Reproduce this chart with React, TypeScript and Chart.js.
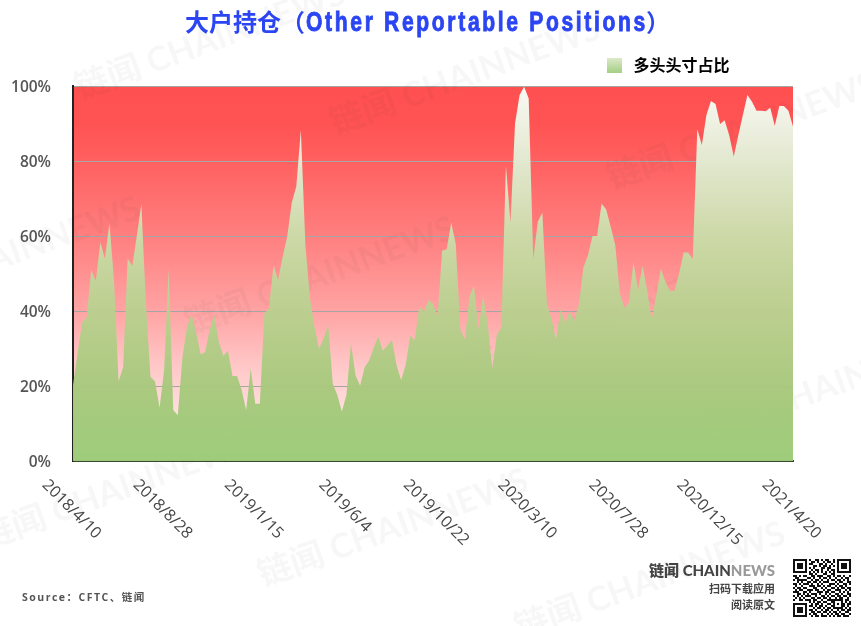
import React, { useEffect, useRef } from "react";
import { Chart, registerables } from "chart.js";

Chart.register(...registerables);

const seriesName = "多头头寸占比";
const startDate = Date.UTC(2018, 3, 10);
const weekCount = 159;
const categories: string[] = Array.from({ length: weekCount }, (_, i) => {
  const d = new Date(startDate + i * 7 * 86400000);
  return `${d.getUTCFullYear()}/${d.getUTCMonth() + 1}/${d.getUTCDate()}`;
});
const tickLabels = [
  "2018/4/10", "2018/8/28", "2019/1/15", "2019/6/4", "2019/10/22",
  "2020/3/10", "2020/7/28", "2020/12/15", "2021/4/20",
];
const longShare = [
  20.3, 28.7, 37, 38.3, 51, 48, 58.3, 54, 63.4, 48.3,
  21.3, 25, 54, 52, 60, 68.5, 42, 22.5, 21.2, 14.2,
  24.3, 51.2, 13.6, 12.2, 27.4, 35.8, 39.1, 34.5, 28.5, 29,
  35, 38.9, 31.8, 28, 29.4, 22.7, 22.7, 19, 13.6, 24.7,
  15.3, 15.3, 39.4, 40.7, 52.3, 48.3, 54.5, 59.8, 68.9, 73.2,
  88.3, 57.6, 43.5, 35.8, 30, 32.7, 36.4, 20.7, 17.6, 13.2,
  17.6, 31.4, 22.9, 20.1, 25, 26.8, 30.3, 33.2, 29.4, 30.9,
  32.3, 25.6, 21.6, 25.6, 33.4, 32.3, 41.3, 39.8, 42.9, 42,
  38.5, 56.1, 56.5, 63.6, 57.9, 35.1, 32.4, 43.8, 46.8, 35.1,
  44.3, 36.7, 24.7, 33.6, 35.6, 78.9, 63.6, 90, 97.6, 99.8,
  96.7, 53.9, 63.8, 66.2, 42, 38, 32.4, 40.4, 36.8, 40,
  37.4, 41.6, 51.6, 54.9, 60, 60, 68.7, 67.1, 62.5, 57.6,
  44.7, 40.9, 42.2, 53, 45.6, 52.1, 45.6, 37.6, 44.3, 51.2,
  47.8, 45.4, 45.4, 50, 55.6, 55.6, 53.9, 88.5, 84.3, 92.3,
  96, 95.2, 89.9, 90.9, 86.9, 81.2, 86.9, 92.3, 97.6, 95.8,
  93.4, 93.4, 93.3, 94.2, 89.4, 94.7, 94.7, 93.4, 89.2,
];
const titleCjk = "大户持仓（";
const titleLatin = "Other Reportable Positions";
const titleClose = "）";
const sourceText = "Source：CFTC、链闻";
const watermarkText = "链闻 CHAINNEWS";
const watermarkAnchors = [
  [80, 100], [335, 135], [612, 190],
  [-125, 315], [190, 335], [470, 380], [700, 445],
  [-15, 550], [263, 587], [520, 640],
];
const qrRows = [
  "11111110100110101100101111111",
  "10000010011010010110101000001",
  "10111010110001101001001011101",
  "10111010001101011010101011101",
  "10111010101000110110001011101",
  "10000010010110100101101000001",
  "11111110101010101010101111111",
  "00000000110100011001100000000",
  "11010110011011100110101101001",
  "01100001101001011010010010110",
  "10111110010110100101101101010",
  "00101001101101011100010110011",
  "11010111010010100011101001101",
  "01001000111011010110010110100",
  "10110110001100101001101011011",
  "01011001110110010110011100101",
  "11100110100011101101100101010",
  "00110101011101001010011010011",
  "10101011100100110101101101101",
  "01010100011011011010010110010",
  "10011011101100100111111110110",
  "00000000101011011001100010101",
  "11111110010110100110101011011",
  "10000010110101101001100011010",
  "10111010001011010110111110101",
  "10111010110100101101001011011",
  "10111010011011011010110100110",
  "10000010101100100101011011001",
  "11111110010110111010101101110",
];

const CJK = '"Noto Sans CJK SC"';
const redStops: [number, string][] = [
  [0, "#ff5050"], [0.1, "#ff5353"], [0.2, "#ff6060"], [0.4, "#ff7f7f"],
  [0.6, "#ffa3a3"], [0.75, "#ffc8c8"], [0.88, "#ffe0e0"], [1, "#ffffff"],
];
const greenStops: [number, string][] = [
  [0, "rgba(250,252,247,0.985)"], [0.2, "rgba(226,234,209,0.985)"], [0.4, "rgba(204,218,168,0.985)"],
  [0.6, "rgba(186,208,143,0.97)"], [0.8, "rgba(168,201,125,0.97)"], [1, "rgba(155,203,118,0.97)"],
];

function vGrad(ctx: CanvasRenderingContext2D, top: number, bottom: number, stops: [number, string][]) {
  const g = ctx.createLinearGradient(0, top, 0, bottom);
  stops.forEach(([o, c]) => g.addColorStop(o, c));
  return g;
}

function makeSwatch() {
  const c = document.createElement("canvas");
  c.width = 15;
  c.height = 15;
  const x = c.getContext("2d")!;
  x.fillStyle = vGrad(x, 0, 15, [[0, "#dfeacb"], [1, "#a5d085"]]);
  x.fillRect(0, 0, 15, 15);
  return c;
}

const decorPlugin = {
  id: "decor",
  beforeDraw(chart: any) {
    const { ctx, chartArea: a, legend } = chart;
    ctx.save();
    ctx.fillStyle = "#ffffff";
    ctx.fillRect(0, 0, chart.width, chart.height);
    ctx.fillStyle = vGrad(ctx, a.top, a.bottom, redStops);
    ctx.fillRect(a.left, a.top, a.right - a.left, a.bottom - a.top);
    ctx.restore();
    legend.left = 603.5;
    legend.right = 760;
    legend.top = 57;
    legend.bottom = 81;
  },
  beforeDatasetsDraw(chart: any) {
    const { ctx } = chart;
    ctx.save();
    ctx.font = `bold 34px Lato, ${CJK}`;
    ctx.fillStyle = "rgba(60,60,60,0.04)";
    ctx.textAlign = "left";
    ctx.textBaseline = "alphabetic";
    watermarkAnchors.forEach(([x, y]) => {
      ctx.save();
      ctx.translate(x, y);
      ctx.rotate((-20 * Math.PI) / 180);
      ctx.fillText(watermarkText, 0, 0);
      ctx.restore();
    });
    ctx.restore();
  },
  afterDraw(chart: any) {
    const { ctx, scales } = chart;
    ctx.save();

    // x tick labels: rotated clockwise, centred on the tick, top edge level
    ctx.fillStyle = "#444444";
    ctx.font = '16px "Open Sans"';
    ctx.textAlign = "center";
    ctx.textBaseline = "middle";
    const h = 13;
    tickLabels.forEach((label) => {
      const px = scales.x.getPixelForValue(categories.indexOf(label));
      const w = ctx.measureText(label).width;
      const box = (w + h) * Math.SQRT1_2;
      ctx.save();
      ctx.translate(px - 1.5, 478 + box / 2);
      ctx.rotate(Math.PI / 4);
      ctx.fillText(label, 0, 0);
      ctx.restore();
    });

    // title
    ctx.fillStyle = "#2b45f2";
    ctx.strokeStyle = "#2b45f2";
    ctx.textAlign = "left";
    ctx.textBaseline = "alphabetic";
    ctx.font = `bold 24px ${CJK}`;
    ctx.fillText(titleCjk, 185, 31);
    ctx.fillText(titleClose, 646, 31);
    ctx.font = `bold 27px "Liberation Sans", sans-serif`;
    const sx = 0.78;
    const latinW = ctx.measureText(titleLatin).width;
    const spacing = (342 - latinW * sx) / titleLatin.length / sx;
    ctx.save();
    ctx.translate(306, 31);
    ctx.scale(sx, 1);
    (ctx as any).letterSpacing = `${spacing}px`;
    ctx.lineWidth = 0.9;
    ctx.fillText(titleLatin, 0, 0);
    ctx.strokeText(titleLatin, 0, 0);
    (ctx as any).letterSpacing = "0px";
    ctx.restore();

    // source
    ctx.fillStyle = "#555555";
    ctx.font = `bold 10.5px "Open Sans", ${CJK}`;
    (ctx as any).letterSpacing = "1.5px";
    ctx.fillText(sourceText, 22, 601);
    (ctx as any).letterSpacing = "0px";

    // brand block
    ctx.textAlign = "left";
    ctx.font = `900 15px Lato, ${CJK}`;
    const brandA = "链闻 CHAIN";
    const brandB = "NEWS";
    const wB = ctx.measureText(brandB).width;
    const wA = ctx.measureText(brandA).width;
    ctx.fillStyle = "#444444";
    ctx.fillText(brandA, 775 - wA - wB, 576);
    ctx.fillStyle = "#999999";
    ctx.fillText(brandB, 775 - wB, 576);
    ctx.fillStyle = "#444444";
    ctx.textAlign = "right";
    ctx.font = `bold 11px ${CJK}`;
    ctx.fillText("扫码下载应用", 775, 593);
    ctx.fillText("阅读原文", 775, 609);

    // QR
    ctx.fillStyle = "#111111";
    (ctx as any).filter = "blur(0.55px)";
    qrRows.forEach((row, r) => {
      for (let c = 0; c < row.length; c++) {
        if (row[c] === "1") ctx.fillRect(793 + c * 2, 559 + r * 2, 2, 2);
      }
    });
    ctx.restore();
  },
};

export default function App() {
  const ref = useRef<HTMLCanvasElement>(null);
  useEffect(() => {
    document.body.style.margin = "0";
    const swatch = makeSwatch();
    const chart = new Chart(ref.current!, {
      type: "line",
      data: {
        labels: categories,
        datasets: [
          {
            label: seriesName,
            data: longShare,
            fill: "origin",
            borderWidth: 0,
            pointRadius: 0,
            tension: 0,
            backgroundColor: (c: any) => {
              const a = c.chart.chartArea;
              if (!a) return "#9ccb76";
              return vGrad(c.chart.ctx, a.top, a.bottom, greenStops);
            },
          },
        ],
      },
      options: {
        responsive: false,
        animation: false,
        devicePixelRatio: 1,
        layout: { padding: { left: 0, top: 86, right: 68, bottom: 165 } },
        plugins: {
          title: { display: false },
          tooltip: { enabled: false },
          legend: {
            display: true,
            position: "chartArea",
            align: "start",
            labels: {
              usePointStyle: true,
              pointStyleWidth: 22,
              padding: 0,
              color: "#111111",
              font: { family: CJK, size: 16, weight: "bold" },
              generateLabels: (ch: any) => [
                {
                  text: ch.data.datasets[0].label,
                  pointStyle: swatch,
                  fillStyle: "#a5d085",
                  strokeStyle: "transparent",
                  lineWidth: 0,
                  datasetIndex: 0,
                },
              ],
            },
          },
        },
        scales: {
          x: {
            type: "category",
            offset: false,
            ticks: { display: false },
            grid: { display: false, drawTicks: false },
            border: { display: true, color: "#3a4a30", width: 2 },
            afterFit: (s: any) => {
              s.height = 0;
            },
          },
          y: {
            min: 0,
            max: 100,
            ticks: {
              stepSize: 20,
              padding: 22,
              labelOffset: 2,
              color: "#555555",
              font: { family: '"Open Sans"', size: 15.5, weight: "600" },
              callback: (v: any) => `${v}%`,
            },
            grid: { color: "rgba(165,165,165,1)", lineWidth: 1, drawTicks: false },
            border: { display: true, color: "#222222", width: 2 },
            afterFit: (s: any) => {
              s.width = 73;
            },
          },
        },
      },
      plugins: [decorPlugin],
    } as any);
    return () => chart.destroy();
  }, []);
  return <canvas ref={ref} width={861} height={626} style={{ display: "block" }} />;
}
